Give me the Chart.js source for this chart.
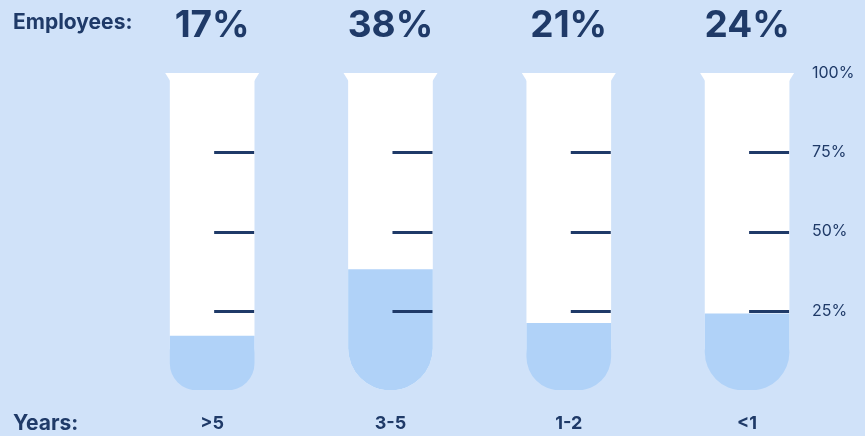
<!DOCTYPE html>
<html>
<head>
<meta charset="utf-8">
<script src="https://cdn.jsdelivr.net/npm/chart.js@4"></script>
<style>
  html, body { margin: 0; padding: 0; background: #d0e2f9; }
  #wrap { width: 865px; height: 436px; position: relative; }
</style>
</head>
<body>
<div id="wrap"><canvas id="chart"></canvas></div>
<script>
// dados do gráfico
const years = ['>5', '3-5', '1-2', '<1'];
const employeesPct = [17, 38, 21, 24];
const tubeFull = [100, 100, 100, 100];
const scaleTicks = [0, 25, 50, 75, 100];
const markLevels = [25, 50, 75];
const rowLabels = ['Employees:', 'Years:'];

const navy = '#1f3a68';
const font = 'Inter, "DejaVu Sans", sans-serif';

// eixo x linear: um tubo por posição 0..3
const tubePoints = tubeFull.map((v, i) => ({ x: i, y: v }));
const fillPoints = employeesPct.map((v, i) => ({ x: i, y: v }));

// desenha a boca do tubo, as marcas e os percentuais no topo
const tubePlugin = {
    id: 'tubes',
    afterDatasetsDraw(chart) {
        const ctx = chart.ctx;
        const yScale = chart.scales.y;
        const tubes = chart.getDatasetMeta(0).data;

        tubes.forEach((bar, i) => {
            const half = bar.width / 2;
            const top = bar.y;

            // boca (lip)
            ctx.save();
            ctx.fillStyle = '#ffffff';
            ctx.beginPath();
            ctx.moveTo(bar.x - half - 5, top);
            ctx.lineTo(bar.x + half + 5, top);
            ctx.lineTo(bar.x + half, top + 8);
            ctx.lineTo(bar.x - half, top + 8);
            ctx.closePath();
            ctx.fill();

            // marcas 25/50/75
            ctx.strokeStyle = navy;
            ctx.lineWidth = 3;
            markLevels.forEach(v => {
                const y = Math.round(yScale.getPixelForValue(v)) + 0.5;
                ctx.beginPath();
                ctx.moveTo(bar.x + 2, y);
                ctx.lineTo(bar.x + half, y);
                ctx.stroke();
            });

            // percentual
            ctx.fillStyle = navy;
            ctx.font = `700 37px ${font}`;
            ctx.textAlign = 'center';
            ctx.textBaseline = 'middle';
            ctx.fillText(employeesPct[i] + '%', bar.x, 26);
            ctx.restore();
        });

        // rótulos das linhas
        ctx.save();
        ctx.fillStyle = navy;
        ctx.font = `700 21px ${font}`;
        ctx.textAlign = 'left';
        ctx.textBaseline = 'middle';
        ctx.fillText(rowLabels[0], 13, 23);
        ctx.fillText(rowLabels[1], 13, 424);
        ctx.restore();
    }
};

const bottomRadius = { topLeft: 0, topRight: 0, bottomLeft: 42, bottomRight: 42 };

new Chart(document.getElementById('chart'), {
    type: 'bar',
    data: {
        datasets: [
            {
                label: 'tube',
                data: tubePoints,
                backgroundColor: '#ffffff',
                borderRadius: bottomRadius,
                borderSkipped: false,
                barThickness: 84,
                grouped: false,
                order: 2
            },
            {
                label: 'Employees',
                data: fillPoints,
                backgroundColor: '#b0d2f8',
                borderRadius: bottomRadius,
                borderSkipped: false,
                barThickness: 84,
                grouped: false,
                order: 1
            }
        ]
    },
    options: {
        responsive: true,
        maintainAspectRatio: false,
        animation: false,
        layout: { padding: { left: 123, top: 73, right: 0, bottom: 0 } },
        plugins: {
            legend: { display: false },
            tooltip: { enabled: false }
        },
        scales: {
            x: {
                type: 'linear',
                offset: false,
                min: -0.5,
                max: 3.364,
                afterBuildTicks(scale) {
                    scale.ticks = years.map((_, i) => ({ value: i }));
                },
                grid: { display: false, drawTicks: false },
                border: { display: false },
                ticks: {
                    color: navy,
                    font: { family: font, size: 18, weight: '700' },
                    padding: 23,
                    callback: v => years[v]
                },
                afterFit(scale) { scale.height = 46; }
            },
            y: {
                position: 'right',
                min: 0,
                max: 100,
                afterBuildTicks(scale) {
                    scale.ticks = scaleTicks.map(v => ({ value: v }));
                },
                grid: { display: false, drawTicks: false },
                border: { display: false },
                ticks: {
                    color: navy,
                    font: { family: font, size: 16 },
                    padding: 0,
                    callback: v => (v === 0 ? '' : v + '%')
                },
                afterFit(scale) { scale.width = 53; }
            }
        }
    },
    plugins: [tubePlugin]
});
</script>
</body>
</html>
